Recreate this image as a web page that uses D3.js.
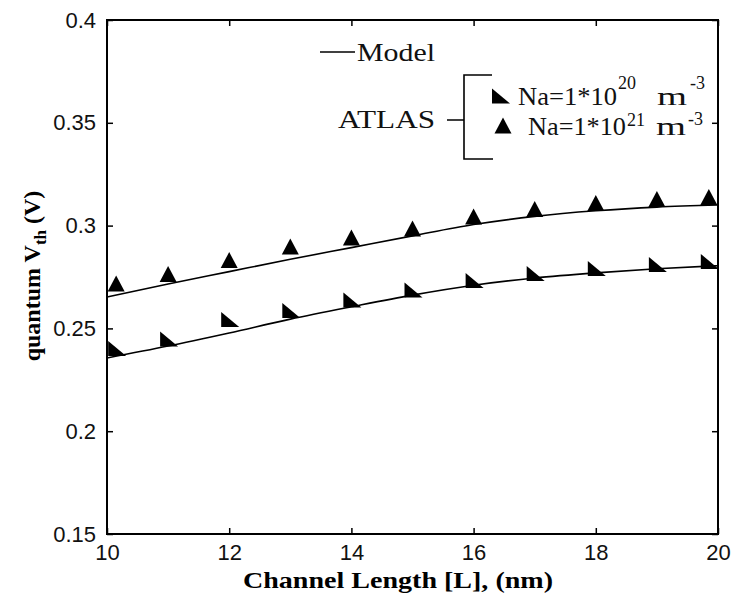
<!DOCTYPE html>
<html lang="en">
<head>
<meta charset="UTF-8">
<title>quantum Vth vs channel length</title>
<script src="https://cdn.jsdelivr.net/npm/d3@7"></script>
<style>
  body { margin: 0; background: #fff; }
  svg { display: block; }
</style>
</head>
<body>
<svg width="736" height="608"></svg>
<script>
// model curves (solid lines)
var lengths = [10, 11, 12, 13, 14, 15, 16, 17, 18, 19, 20];
var modelLow = [0.2356, 0.2414, 0.2478, 0.2545, 0.2605, 0.2662, 0.2710, 0.2745, 0.2770, 0.2790, 0.2805];
var modelHigh = [0.2653, 0.2716, 0.2776, 0.2836, 0.2893, 0.2950, 0.3005, 0.3045, 0.3072, 0.3090, 0.3100];
// ATLAS points
var atlasL = [10.15, 11, 12, 13, 14, 15, 16, 17, 18, 19, 19.85];
var atlas20 = [0.2402, 0.2448, 0.2543, 0.2587, 0.2638, 0.2687, 0.2733, 0.2767, 0.2791, 0.2811, 0.2825];
var atlas21 = [0.2716, 0.2762, 0.2830, 0.2896, 0.2940, 0.2983, 0.3042, 0.3078, 0.3107, 0.3127, 0.3137];
// ticks
var xTicks = [10, 12, 14, 16, 18, 20];
var yTicks = [0.15, 0.2, 0.25, 0.3, 0.35, 0.4];

var svg = d3.select('svg');
// plot box (named so they do not clash with window.top)
var boxL = 107, boxR = 718, boxT = 20, boxB = 534;

var x = d3.scaleLinear().domain([10, 20]).range([boxL, boxR]);
var y = d3.scaleLinear().domain([0.15, 0.4]).range([boxB, boxT]);

var tickFont = '"Liberation Sans", Arial, sans-serif';
var serif = '"Liberation Serif", "Times New Roman", serif';

// axes, ticks point inward
function styleAxis(g, hideText) {
    g.select('.domain').remove();
    g.selectAll('line').attr('stroke', '#000').attr('stroke-width', 1.5);
    g.selectAll('text').attr('font-family', tickFont).attr('font-size', 22).attr('fill', '#111');
    if (hideText) g.selectAll('text').remove();
}
svg.append('g').attr('transform', 'translate(0,' + boxB + ')')
    .call(d3.axisBottom(x).tickValues(xTicks).tickSize(-6).tickPadding(10).tickFormat(d3.format('d')))
    .call(styleAxis, false);
svg.append('g').attr('transform', 'translate(0,' + boxT + ')')
    .call(d3.axisTop(x).tickValues(xTicks).tickSize(-6))
    .call(styleAxis, true);
svg.append('g').attr('transform', 'translate(' + boxL + ',0)')
    .call(d3.axisLeft(y).tickValues(yTicks).tickSize(-6).tickPadding(11).tickFormat(function (d) { return String(+d.toFixed(2)); }))
    .call(styleAxis, false);
svg.append('g').attr('transform', 'translate(' + boxR + ',0)')
    .call(d3.axisRight(y).tickValues(yTicks).tickSize(-6))
    .call(styleAxis, true);

// frame
svg.append('rect')
    .attr('x', boxL).attr('y', boxT)
    .attr('width', boxR - boxL).attr('height', boxB - boxT)
    .attr('fill', 'none').attr('stroke', '#000').attr('stroke-width', 2);

// model lines
var line = d3.line()
    .x(function (d, i) { return x(lengths[i]); })
    .y(function (d) { return y(d); })
    .curve(d3.curveMonotoneX);
[modelLow, modelHigh].forEach(function (s) {
    svg.append('path').datum(s)
        .attr('d', line)
        .attr('fill', 'none').attr('stroke', '#000').attr('stroke-width', 1.6);
});

// marker shapes
var upTri = 'M0,-8.5L8.5,7.5L-8.5,7.5Z';
var cornerTri = 'M-8,-7.5L-8,7.5L10,7.5Z';

svg.append('g').selectAll('path').data(atlas21).enter().append('path')
    .attr('d', upTri)
    .attr('transform', function (d, i) { return 'translate(' + x(atlasL[i]) + ',' + y(d) + ')'; })
    .attr('fill', '#000');
svg.append('g').selectAll('path').data(atlas20).enter().append('path')
    .attr('d', cornerTri)
    .attr('transform', function (d, i) { return 'translate(' + x(atlasL[i]) + ',' + y(d) + ')'; })
    .attr('fill', '#000');

// axis titles
svg.append('text')
    .attr('x', 398).attr('y', 588)
    .attr('text-anchor', 'middle')
    .attr('font-family', serif).attr('font-weight', 'bold').attr('font-size', 24)
    .attr('textLength', 310).attr('lengthAdjust', 'spacingAndGlyphs')
    .text('Channel Length [L], (nm)');

var yl = svg.append('text')
    .attr('transform', 'translate(40,276) rotate(-90)')
    .attr('text-anchor', 'middle')
    .attr('font-family', serif).attr('font-weight', 'bold').attr('font-size', 24);
yl.append('tspan').text('quantum V');
yl.append('tspan').attr('font-size', 17).attr('dy', 6).text('th');
yl.append('tspan').attr('dy', -6).text(' (V)');

// legend
var lg = svg.append('g').attr('font-family', serif).attr('fill', '#111');
lg.append('line').attr('x1', 320).attr('x2', 355).attr('y1', 52).attr('y2', 52)
    .attr('stroke', '#000').attr('stroke-width', 1.6);
lg.append('text').attr('x', 357).attr('y', 61).attr('font-size', 26)
    .attr('textLength', 78).attr('lengthAdjust', 'spacingAndGlyphs').text('Model');

lg.append('text').attr('x', 338).attr('y', 128).attr('font-size', 26)
    .attr('textLength', 97).attr('lengthAdjust', 'spacingAndGlyphs').text('ATLAS');
lg.append('path').attr('d', 'M447,120H464M492,75H464V159H493')
    .attr('fill', 'none').attr('stroke', '#000').attr('stroke-width', 1.6);

lg.append('path').attr('d', cornerTri).attr('transform', 'translate(500,96)').attr('fill', '#000');
lg.append('path').attr('d', upTri).attr('transform', 'translate(503,126)').attr('fill', '#000');

var t1 = lg.append('text').attr('font-size', 25);
t1.append('tspan').attr('x', 518).attr('y', 105).attr('textLength', 99).attr('lengthAdjust', 'spacingAndGlyphs').text('Na=1*10');
t1.append('tspan').attr('x', 618).attr('y', 89).attr('font-size', 18).text('20');
t1.append('tspan').attr('x', 657).attr('y', 105).attr('textLength', 30).attr('lengthAdjust', 'spacingAndGlyphs').text('m');
t1.append('tspan').attr('x', 690).attr('y', 89).attr('font-size', 18).text('-3');

var t2 = lg.append('text').attr('font-size', 25);
t2.append('tspan').attr('x', 528).attr('y', 135).attr('textLength', 98).attr('lengthAdjust', 'spacingAndGlyphs').text('Na=1*10');
t2.append('tspan').attr('x', 627).attr('y', 126).attr('font-size', 18).text('21');
t2.append('tspan').attr('x', 656).attr('y', 135).attr('textLength', 30).attr('lengthAdjust', 'spacingAndGlyphs').text('m');
t2.append('tspan').attr('x', 688).attr('y', 125).attr('font-size', 18).text('-3');
</script>
</body>
</html>
